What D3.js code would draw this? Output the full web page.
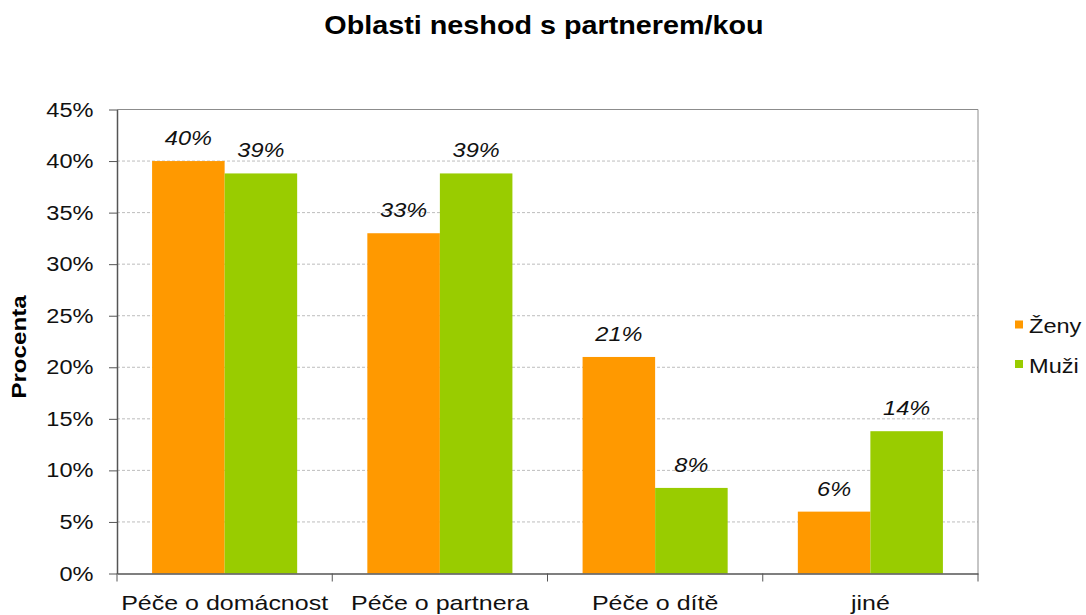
<!DOCTYPE html>
<html><head><meta charset="utf-8">
<script src="https://cdn.jsdelivr.net/npm/d3@7"></script>
<style>body{margin:0;background:#fff;} text{font-family:"Liberation Sans",Arial,sans-serif;}</style>
</head><body><svg id="c" width="1086" height="615"></svg>
<script>
const categories = ["Péče o domácnost", "Péče o partnera", "Péče o dítě", "jiné"];
const seriesNames = ["Ženy", "Muži"];
const zeny = [40, 33, 21, 6];
const muzi = [38.8, 38.8, 8.3, 13.8];
const yTicks = [0, 5, 10, 15, 20, 25, 30, 35, 40, 45];
const colors = ["#FF9900", "#99CC00"];

const SX = 1.15;
const svg = d3.select("#c");
const L = 117, R = 978, T = 109.5, B = 573.5;
const x = d3.scaleBand().domain(categories).range([L, R]).paddingInner(0.326).paddingOuter(0.163);
const xs = d3.scaleBand().domain(seriesNames).range([0, x.bandwidth()]);
const y = d3.scaleLinear().domain([0, 45]).range([B, T]);

function place(sel, px, py, rot) {
  return sel.attr("transform", `translate(${px},${py})` + (rot ? ` rotate(${rot})` : "") + ` scale(${SX},1)`);
}

// gridlines
svg.append("g").selectAll("line").data(yTicks.filter(d => d > 0 && d < 45)).join("line")
  .attr("x1", L).attr("x2", R).attr("y1", d => y(d)).attr("y2", d => y(d))
  .attr("stroke", "#bdbdbd").attr("stroke-dasharray", "3,2").attr("stroke-width", 1);
// frame top/right
svg.append("path").attr("d", `M${L},${T}H${R}V${B}`).attr("fill", "none").attr("stroke", "#8c8c8c").attr("stroke-width", 1);

// bars
const data = categories.map((c, i) => ({c, vals: [zeny[i], muzi[i]]}));
const g = svg.append("g");
data.forEach(d => {
  d.vals.forEach((v, j) => {
    g.append("rect").attr("x", x(d.c) + xs(seriesNames[j])).attr("y", y(v))
      .attr("width", xs.bandwidth()).attr("height", y(0) - y(v)).attr("fill", colors[j]);
    const t = g.append("text").attr("text-anchor", "middle").attr("font-size", 20.5)
      .attr("font-style", "italic").attr("fill", "#111").text(Math.round(v) + "%");
    place(t, x(d.c) + xs(seriesNames[j]) + xs.bandwidth() / 2, y(v) - 16);
  });
});

// y axis
const ya = d3.axisLeft(y).tickValues(yTicks).tickFormat(d => d + "%").tickSize(8).tickSizeOuter(0);
const yg = svg.append("g").attr("transform", `translate(${L},0)`).call(ya);
yg.select(".domain").attr("stroke", "#555").attr("stroke-width", 1.5);
yg.selectAll(".tick line").attr("stroke", "#555");
yg.selectAll("text").attr("font-size", 20.5).attr("fill", "#111").attr("x", null).attr("dy", null)
  .attr("font-family", "Liberation Sans, Arial, sans-serif")
  .attr("transform", `translate(-23.5,6.5) scale(${SX},1)`);

// x axis
const xa = d3.axisBottom(x).tickSize(0).tickSizeOuter(0);
const xg = svg.append("g").attr("transform", `translate(0,${B})`).call(xa);
xg.select(".domain").attr("stroke", "#555").attr("stroke-width", 1.5);
xg.selectAll("text").attr("font-size", 21).attr("fill", "#111").attr("y", null).attr("dy", null)
  .attr("font-family", "Liberation Sans, Arial, sans-serif")
  .attr("transform", `translate(0,36.5) scale(1.19,1)`);
const bounds = [L].concat(categories.map(c => x(c) + x.bandwidth() + x.step() * x.paddingInner() / 2));
bounds[bounds.length - 1] = R;
xg.selectAll(".bt").data(bounds).join("line").attr("class", "bt")
  .attr("x1", d => d).attr("x2", d => d).attr("y1", 0).attr("y2", 8).attr("stroke", "#555");

// title
place(svg.append("text").attr("text-anchor", "middle")
  .attr("font-size", 25).attr("font-weight", "bold").attr("fill", "#000").text("Oblasti neshod s partnerem/kou"), 544, 34.3);
// y label
place(svg.append("text").attr("text-anchor", "middle")
  .attr("font-size", 21).attr("font-weight", "bold").attr("fill", "#000").text("Procenta"), 26, 347, -90);

// legend
const lg = svg.append("g");
seriesNames.forEach((s, i) => {
  const yy = 324.5 + i * 39.5;
  lg.append("rect").attr("x", 1015).attr("y", yy - 4).attr("width", 8).attr("height", 8).attr("fill", colors[i]);
  place(lg.append("text").attr("font-size", 20.5).attr("fill", "#111").text(s), 1029, yy + 8.7);
});
</script></body></html>
